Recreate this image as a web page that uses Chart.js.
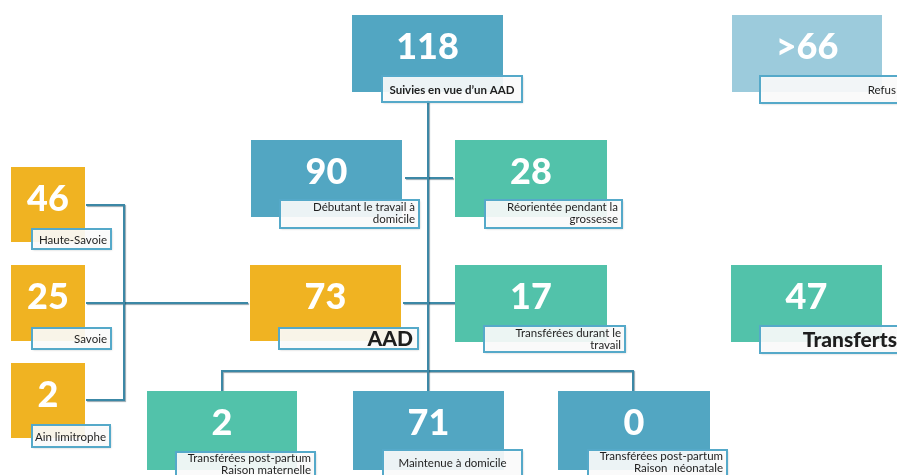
<!DOCTYPE html>
<html>
<head>
<meta charset="utf-8">
<script src="https://cdn.jsdelivr.net/npm/chart.js@4"></script>
<style>
  html, body { margin: 0; padding: 0; background: #fff; overflow: hidden; }
  #wrap { width: 897px; height: 475px; }
</style>
</head>
<body>
<div id="wrap"><canvas id="flowChart" width="897" height="475"></canvas></div>
<script>
// Valeurs du diagramme
const values = ["118", ">66", "90", "28", "46", "25", "73", "17", "47", "2", "2", "71", "0"];
const captions = [
  ["Suivies en vue d\u2019un AAD"],
  ["Refus"],
  ["D\u00e9butant le travail \u00e0", "domicile"],
  ["R\u00e9orient\u00e9e pendant la", "grossesse"],
  ["Haute-Savoie"],
  ["Savoie"],
  ["AAD"],
  ["Transf\u00e9r\u00e9es durant le", "travail"],
  ["Transferts"],
  ["Ain limitrophe"],
  ["Transf\u00e9r\u00e9es post-partum", "Raison maternelle"],
  ["Maintenue \u00e0 domicile"],
  ["Transf\u00e9r\u00e9es post-partum", "Raison  n\u00e9onatale"],
];
const groups = ["blue", "light", "blue", "green", "yellow", "yellow", "yellow", "green", "green", "yellow", "green", "blue", "blue"];

// Mise en page (unités des axes) : boîte [x0, y0, x1, y1] et étiquette [x0, y0, x1, y1]
const boxes = [
  [352, 15, 503, 92], [732, 15, 882, 92],
  [251, 140, 402, 217], [455, 140, 607, 217],
  [11, 167, 85, 242], [11, 265, 85, 341], [250, 265, 401, 341], [455, 265, 607, 342], [731, 265, 882, 342],
  [11, 363, 85, 438], [147, 391, 297, 470], [353, 391, 504, 470], [558, 391, 710, 470],
];
const tags = [
  [382, 76, 522, 102], [760, 76, 903, 103],
  [280, 200, 419, 228], [485, 200, 622, 228],
  [32, 229, 111, 249], [32, 328, 111, 349], [279, 328, 418, 349], [484, 326, 625, 352], [760, 326, 903, 353],
  [32, 425, 110, 447], [176, 452, 315, 482], [383, 450, 522, 482], [588, 450, 727, 482],
];
const bigTags = [6, 8];
const centeredTags = [0, 11];

// Liaisons
const links = [
  [[428, 100], [428, 391]],
  [[405, 178], [453, 178]],
  [[86, 205], [124, 205], [124, 400], [86, 400]],
  [[86, 303], [248, 303]],
  [[403, 303], [455, 303]],
  [[222, 391], [222, 371], [633, 371], [633, 391]],
];

const colors = { blue: "#52a6c2", light: "#9ccbdc", green: "#52c2aa", yellow: "#f0b322" };

const boxPlugin = {
  id: "boxes",
  beforeDatasetsDraw(chart) {
    const c = chart.ctx;
    c.save();
    c.shadowColor = "rgba(20,60,80,0.45)";
    c.shadowOffsetX = 1;
    c.shadowOffsetY = 1;
    c.shadowBlur = 1;
  },
  afterDatasetsDraw(chart) {
    const c = chart.ctx;
    c.restore();
    const xs = chart.scales.x, ys = chart.scales.y;
    const rect = (r) => {
      const x0 = xs.getPixelForValue(r[0]), y0 = ys.getPixelForValue(r[1]);
      const x1 = xs.getPixelForValue(r[2]), y1 = ys.getPixelForValue(r[3]);
      return { x: x0, y: y0, w: x1 - x0, h: y1 - y0 };
    };
    values.forEach((v, i) => {
      const b = rect(boxes[i]);
      c.fillStyle = colors[groups[i]];
      c.fillRect(b.x, b.y, b.w, b.h);
      c.fillStyle = "#fff";
      c.font = "900 36px Lato, 'Open Sans', sans-serif";
      c.textAlign = "center";
      c.textBaseline = "middle";
      c.fillText(v, b.x + b.w / 2, b.y + 32);

      const t = rect(tags[i]);
      c.save();
      c.shadowColor = "rgba(0,0,0,0.25)";
      c.shadowOffsetX = 1;
      c.shadowOffsetY = 1;
      c.shadowBlur = 2;
      c.fillStyle = "rgba(255,255,255,0.9)";
      c.fillRect(t.x, t.y, t.w, t.h);
      c.restore();
      c.strokeStyle = "#55a9c9";
      c.lineWidth = 2;
      c.strokeRect(t.x, t.y, t.w, t.h);

      c.fillStyle = "#1e1e1e";
      const lines = captions[i];
      if (bigTags.includes(i)) {
        c.font = "900 21px Lato, sans-serif";
        c.textAlign = "right";
        c.fillText(lines[0], Math.min(t.x + t.w - 5, 897), t.y + t.h / 2 + 1);
        return;
      }
      c.font = (i === 0 ? "bold 11.5px" : "11.5px") + " Lato, sans-serif";
      let tx;
      if (centeredTags.includes(i)) { c.textAlign = "center"; tx = t.x + t.w / 2; }
      else { c.textAlign = "right"; tx = Math.min(t.x + t.w - 4, 896); }
      if (lines.length === 1) {
        c.fillText(lines[0], tx, i === 11 ? t.y + 13 : t.y + t.h / 2 + 1);
      } else {
        const top = t.y + (t.h >= 30 ? 6 : 7);
        lines.forEach((l, k) => c.fillText(l, tx, top + k * 12));
      }
    });
  },
};

new Chart(document.getElementById("flowChart"), {
  type: "scatter",
  data: {
    datasets: links.map((pts) => ({
      data: pts.map((p) => ({ x: p[0], y: p[1] })),
      showLine: true,
      borderColor: "#3c88a6",
      borderWidth: 2,
      pointRadius: 0,
      tension: 0,
    })),
  },
  options: {
    responsive: false,
    animation: false,
    layout: { padding: 0 },
    plugins: { legend: { display: false }, tooltip: { enabled: false } },
    scales: {
      x: { type: "linear", min: 0, max: 897, display: false },
      y: { type: "linear", min: 0, max: 475, reverse: true, display: false },
    },
  },
  plugins: [boxPlugin],
});
</script>
</body>
</html>
